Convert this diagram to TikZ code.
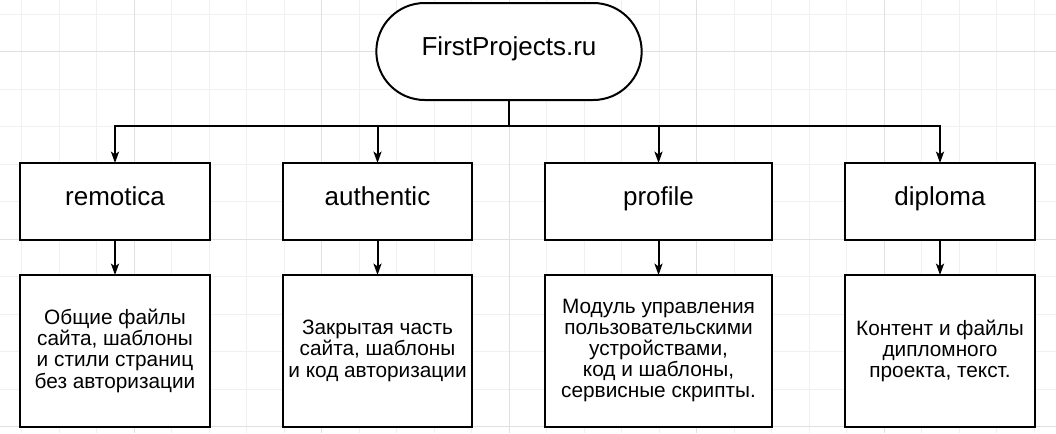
\documentclass[tikz,border=0pt]{standalone}
\usepackage{fontspec}
\setmainfont{Liberation Sans}
\usetikzlibrary{positioning, arrows.meta}

\begin{document}
\begin{tikzpicture}[
  x=0.75pt, y=-0.75pt,
  >={Stealth[length=8.5pt, width=6pt, inset=2pt]},
  every node/.style={font=\fontsize{15.6}{15.8}\selectfont},
  box/.style      = {draw=black, line width=1.5pt, fill=white, align=center, inner sep=2pt, outer sep=0pt},
  mod/.style      = {box, minimum height=57.75pt, font=\fontsize{19.5}{22}\selectfont, text height=0.8em, text depth=0.2em},
  desc/.style     = {box, minimum height=113.75pt},
  terminal/.style = {mod, rounded corners=36.3pt, minimum width=199pt, minimum height=72.75pt},
  link/.style     = {line width=1.5pt},
  arr/.style      = {->, link},
  minor/.style    = {draw=black!6, line width=0.75pt},
  major/.style    = {draw=black!12, line width=0.75pt},
]
  % background grid
  \fill[white] (0,0) rectangle (1056,433);
  \useasboundingbox (0,0) rectangle (1056,433);
  \foreach \i in {0,...,27} \draw[minor] ({21.5+37.5*\i},0) -- ++(0,433);
  \foreach \j in {0,...,11} \draw[minor] (0,{14+37.5*\j}) -- ++(1056,0);
  \foreach \i in {0,...,4} \draw[major] ({134+187.5*\i},0) -- ++(0,433);
  \foreach \j in {0,...,2} \draw[major] (0,{51.5+187.5*\j}) -- ++(1056,0);

  \node[terminal] (root) at (509,51.5) {FirstProjects.ru};

  \node[mod, minimum width=142.5pt]  (remotica)  at (115,201.5)   {remotica};
  \node[mod, minimum width=141.75pt] (authentic) at (377.5,201.5) {authentic};
  \node[mod, minimum width=170.25pt] (profile)   at (658.5,201.5) {profile};
  \node[mod, minimum width=142.5pt]  (diploma)   at (940,201.5)   {diploma};

  \node[desc, minimum width=142.5pt,  below=26.25pt of remotica]  (remoticaTxt)
    {Общие файлы\\сайта, шаблоны\\и стили страниц\\без авторизации};
  \node[desc, minimum width=141.75pt, below=26.25pt of authentic] (authenticTxt)
    {Закрытая часть\\сайта, шаблоны\\и код авторизации};
  \node[desc, minimum width=170.25pt, below=26.25pt of profile]   (profileTxt)
    {Модуль управления\\пользовательскими\\устройствами,\\код и шаблоны,\\сервисные скрипты.};
  \node[desc, minimum width=142.5pt,  below=26.25pt of diploma]   (diplomaTxt)
    {Контент и файлы\\дипломного\\проекта, текст.};

  \coordinate (bus) at (509,126);
  \draw[link] (root) -- (bus);
  \foreach \m in {remotica,authentic,profile,diploma} \draw[arr] (bus) -| (\m);
  \foreach \m in {remotica,authentic,profile,diploma} \draw[arr] (\m) -- (\m Txt);
\end{tikzpicture}
\end{document}
